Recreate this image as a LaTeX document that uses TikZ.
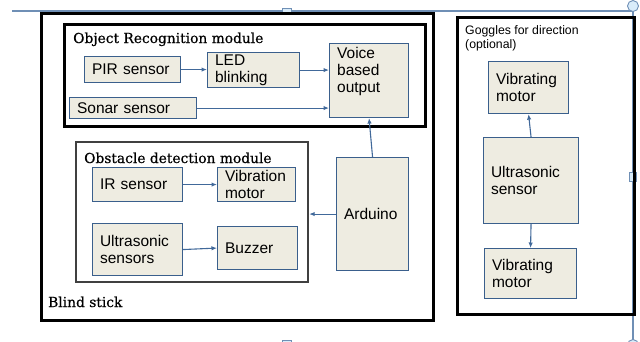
\documentclass[tikz,border=0pt]{standalone}
\usepackage{fontspec}
\setmainfont{Liberation Sans}
\newfontfamily\slabfont[FakeBold=0.6]{DejaVu Serif}
\usetikzlibrary{arrows.meta}

\definecolor{blkfill}{HTML}{EEECE1}
\definecolor{blkline}{HTML}{3A5F8C}
\definecolor{arrowc}{HTML}{41699A}
\definecolor{handleline}{HTML}{6F8FB5}
\definecolor{handlefill}{HTML}{D9ECFA}

\tikzset{
  blk/.style={draw=blkline, fill=blkfill, line width=1.1pt, rectangle,
    anchor=north west, inner xsep=7.5pt, inner ysep=1pt, align=left,
    font=\fontsize{15.5}{17}\selectfont},
  blktext/.style={anchor=north west, inner sep=0pt, align=left,
    font=\fontsize{15.5}{17}\selectfont},
  group/.style={draw=black, line width=2.6pt, rectangle, anchor=north west, inner sep=0pt},
  title/.style={anchor=base west, inner sep=0pt,
    font=\slabfont\fontsize{13.8}{16}\selectfont},
  smalltitle/.style={anchor=north west, inner sep=0pt, align=left,
    font=\fontsize{12.3}{14.5}\selectfont},
  link/.style={draw=arrowc, line width=1.1pt, -{Latex[length=5.5pt,width=4.5pt]}},
  handle/.style={draw=handleline, fill=handlefill, line width=0.9pt}
}

\begin{document}
\begin{tikzpicture}[x=1pt, y=-1pt]
\useasboundingbox (0,0) rectangle (640,341);
\clip (0,0) rectangle (640,341);

% frame guide lines with their handles
\draw[handleline, line width=1.6pt] (12,11) -- (633,11) -- (633,345);
\node[handle, minimum width=9pt, minimum height=6pt, inner sep=0pt] (hTop) at (287,11) {};
\node[handle, minimum width=7pt, minimum height=9pt, inner sep=0pt] (hRight) at (633,177) {};
\node[handle, circle, minimum size=11pt, inner sep=0pt] (hCornerTop) at (633,6) {};
\node[handle, circle, minimum size=11pt, inner sep=0pt] (hCornerBottom) at (633,345) {};
\node[handle, minimum width=9pt, minimum height=6pt, inner sep=0pt] (hBottom) at (287,343) {};

% Blind stick
\node[group, minimum width=392pt, minimum height=307pt] (stick) at (40,12) {};
\node[title] (stickT) at (48,307) {Blind stick};

% Object recognition module
\node[group, line width=3pt, minimum width=361pt, minimum height=102pt] (orm) at (63,23) {};
\node[title] (ormT) at (73,43) {Object Recognition module};

\node[blk, minimum width=96pt, minimum height=26pt, text width=81pt] (pir) at (84,56) {PIR sensor};
\node[blk, minimum width=92pt, minimum height=35pt, text width=77pt] (led) at (207,52) {LED\\blinking};
\node[blk, minimum width=79pt, minimum height=74pt] (voice) at (329,43) {};
\node[blktext] (voiceT) at (337,47) {Voice\\based\\output};
\node[blk, minimum width=127pt, minimum height=21pt, text width=112pt] (sonar) at (69,97) {Sonar sensor};

% Obstacle detection module
\node[group, draw=black!75, line width=2.2pt, minimum width=232pt, minimum height=140pt] (odm) at (75,141) {};
\node[title] (odmT) at (84,163) {Obstacle detection module};

\node[blk, minimum width=90pt, minimum height=34pt, text width=75pt] (ir) at (92,167) {IR sensor};
\node[blk, minimum width=78pt, minimum height=34pt, text width=63pt] (vib) at (217,167) {Vibration\\motor};
\node[blk, minimum width=90pt, minimum height=52pt, text width=75pt] (ultra) at (92,223) {Ultrasonic\\sensors};
\node[blk, minimum width=80pt, minimum height=43pt, text width=65pt] (buzz) at (217,226) {Buzzer};

\node[blk, minimum width=72pt, minimum height=113pt, text width=57pt] (ard) at (336,157) {Arduino};

% Goggles
\node[group, minimum width=177pt, minimum height=297pt] (gog) at (456,16) {};
\node[smalltitle] (gogT) at (465,25) {Goggles for direction\\(optional)};

\node[blk, minimum width=80pt, minimum height=52pt, text width=65pt] (gvt) at (488,61) {Vibrating\\motor};
\node[blk, minimum width=95pt, minimum height=86pt, text width=80pt] (gus) at (483,137) {Ultrasonic\\sensor};
\node[blk, minimum width=92pt, minimum height=50pt, text width=77pt] (gvb) at (484,248) {Vibrating\\motor};

% connectors
\draw[link] (pir.east) -- (pir.east -| led.west);
\draw[link] (led.east) -- (led.east -| voice.west);
\draw[link] (sonar.east) -- (sonar.east -| voice.west);
\draw[link] (ard.north) -- (voice.south);
\draw[link] (ard.west) -- (ard.west -| odm.east);
\draw[link] (ir.east) -- (ir.east -| vib.west);
\draw[link] (ultra.east) -- (buzz.west);
\draw[link] (gus.north) -- (gvt.south);
\draw[link] (gus.south) -- (gvb.north);
\end{tikzpicture}
\end{document}
